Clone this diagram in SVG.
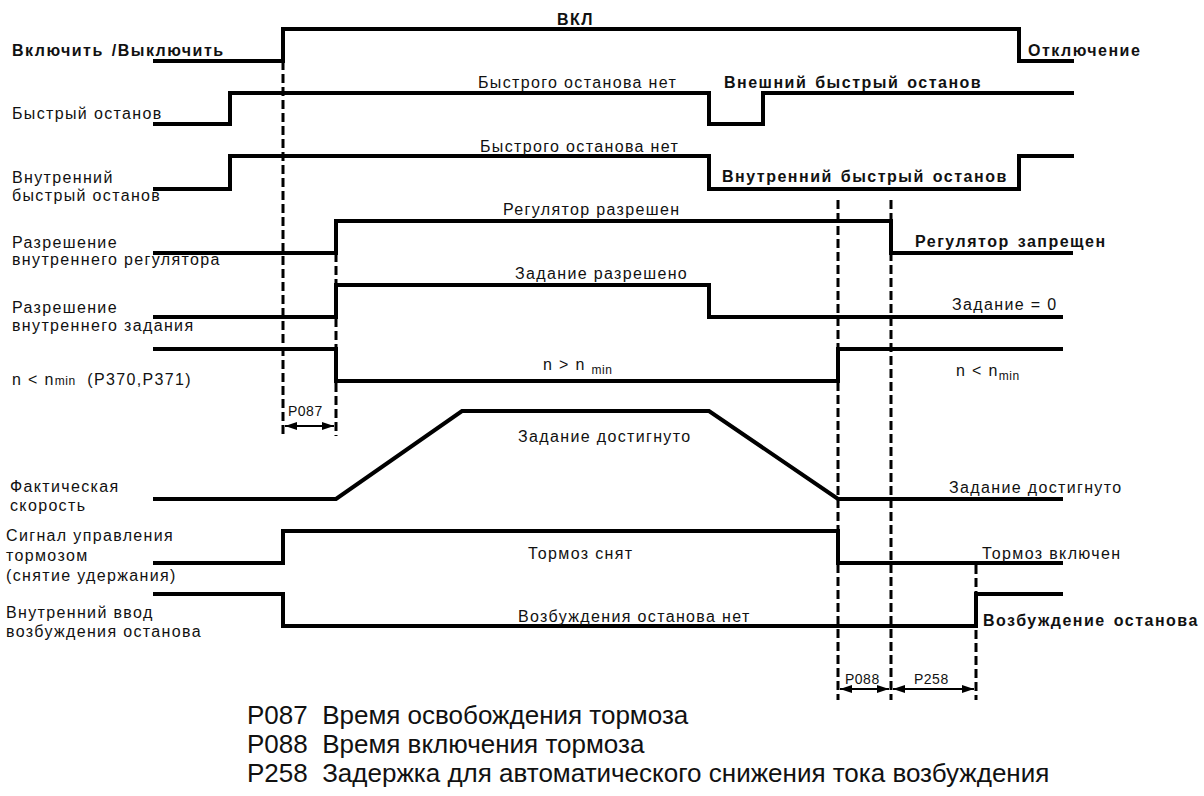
<svg xmlns="http://www.w3.org/2000/svg" width="1204" height="796" viewBox="0 0 1204 796">
<style>
.sig{fill:none;stroke:#000;stroke-width:4;stroke-linejoin:miter;stroke-linecap:butt}
.dash{fill:none;stroke:#000;stroke-width:3;stroke-dasharray:9 4}
.arr{fill:none;stroke:#000;stroke-width:2;marker-start:url(#ah);marker-end:url(#ah)}
text{font-family:"Liberation Sans",Arial,sans-serif;font-size:16px;fill:#111;letter-spacing:1.35px;white-space:pre}
.b{font-weight:bold;letter-spacing:1.5px;word-spacing:2px}
.sm{font-size:14px;letter-spacing:0.5px}
.leg{font-size:26px;letter-spacing:0}
</style>
<defs>
<marker id="ah" viewBox="0 0 12 8" refX="12" refY="4" markerWidth="12" markerHeight="8" markerUnits="userSpaceOnUse" orient="auto-start-reverse">
<path d="M0,0 L12,4 L0,8 z" fill="#000"/>
</marker>
</defs>
<rect width="1204" height="796" fill="#fff"/>

<g id="labels">
<text class="b" x="12" y="56">Включить /Выключить</text>
<text x="12" y="119">Быстрый останов</text>
<text x="12" y="183">Внутренний</text>
<text x="12" y="201">быстрый останов</text>
<text x="12" y="248">Разрешение</text>
<text x="12" y="265">внутреннего регулятора</text>
<text x="12" y="313">Разрешение</text>
<text x="12" y="331">внутреннего задания</text>
<text x="12" y="385">n &lt; n<tspan font-size="12" letter-spacing="0.5">min</tspan>  (P370,P371)</text>
<text x="10" y="492">Фактическая</text>
<text x="10" y="511">скорость</text>
<text x="6" y="541">Сигнал управления</text>
<text x="6" y="561">тормозом</text>
<text x="6" y="581">(снятие удержания)</text>
<text x="6" y="618">Внутренний ввод</text>
<text x="6" y="637">возбуждения останова</text>
</g>

<g id="sig-onoff">
<path class="sig" d="M153,61 H283 V29 H1019 V61 H1074"/>
<text class="b" x="557" y="25">ВКЛ</text>
<text class="b" x="1028" y="56">Отключение</text>
</g>
<g id="sig-quickstop">
<path class="sig" d="M153,124 H230 V93 H709 V124 H763 V93 H1074"/>
<text x="478" y="88">Быстрого останова нет</text>
<text class="b" x="724" y="88">Внешний быстрый останов</text>
</g>
<g id="sig-intquickstop">
<path class="sig" d="M153,189 H230 V156 H709 V189 H1019 V156 H1074"/>
<text x="480" y="152">Быстрого останова нет</text>
<text class="b" x="722" y="182">Внутренний быстрый останов</text>
</g>
<g id="sig-regenable">
<path class="sig" d="M153,253 H336 V221 H891 V253 H1073"/>
<text x="503" y="215">Регулятор разрешен</text>
<text class="b" x="915" y="247">Регулятор запрещен</text>
</g>
<g id="sig-setenable">
<path class="sig" d="M153,317 H336 V285 H709 V317 H1063"/>
<text x="515" y="279">Задание разрешено</text>
<text x="952" y="310">Задание = 0</text>
</g>
<g id="sig-nmin">
<path class="sig" d="M153,349 H336 V381 H838 V349 H1063"/>
<text x="543" y="370">n &gt; n <tspan font-size="12" letter-spacing="0.5" dy="4">min</tspan></text>
<text x="956" y="376">n &lt; n<tspan font-size="12" letter-spacing="0.5" dy="4">min</tspan></text>
</g>
<g id="sig-speed">
<path class="sig" d="M153,499 H336 L462,411 H709 L838,499 H1063"/>
<text x="518" y="442">Задание достигнуто</text>
<text x="949" y="493">Задание достигнуто</text>
</g>
<g id="sig-brake">
<path class="sig" d="M153,563 H283 V531 H838 V563 H1063"/>
<text x="528" y="559">Тормоз снят</text>
<text x="982" y="559">Тормоз включен</text>
</g>
<g id="sig-excit">
<path class="sig" d="M153,594 H283 V626 H976 V594 H1063"/>
<text x="518" y="622">Возбуждения останова нет</text>
<text class="b" x="983" y="626">Возбуждение останова</text>
</g>

<g id="connectors">
<line class="dash" x1="283" y1="61" x2="283" y2="436"/>
<line class="dash" x1="336" y1="253" x2="336" y2="436"/>
<line class="dash" x1="838" y1="200" x2="838" y2="700"/>
<line class="dash" x1="891" y1="200" x2="891" y2="700"/>
<line class="dash" x1="976" y1="565" x2="976" y2="700"/>
<line class="arr" x1="285" y1="426" x2="334" y2="426"/>
<line class="arr" x1="840" y1="689" x2="889" y2="689"/>
<line class="arr" x1="893" y1="689" x2="974" y2="689"/>
<text class="sm" x="288" y="416">P087</text>
<text class="sm" x="845" y="684">P088</text>
<text class="sm" x="914" y="684">P258</text>
</g>

<g id="legend">
<text class="leg" x="247" y="724">P087  Время освобождения тормоза</text>
<text class="leg" x="247" y="753">P088  Время включения тормоза</text>
<text class="leg" x="247" y="782">P258  Задержка для автоматического снижения тока возбуждения</text>
</g>
</svg>
